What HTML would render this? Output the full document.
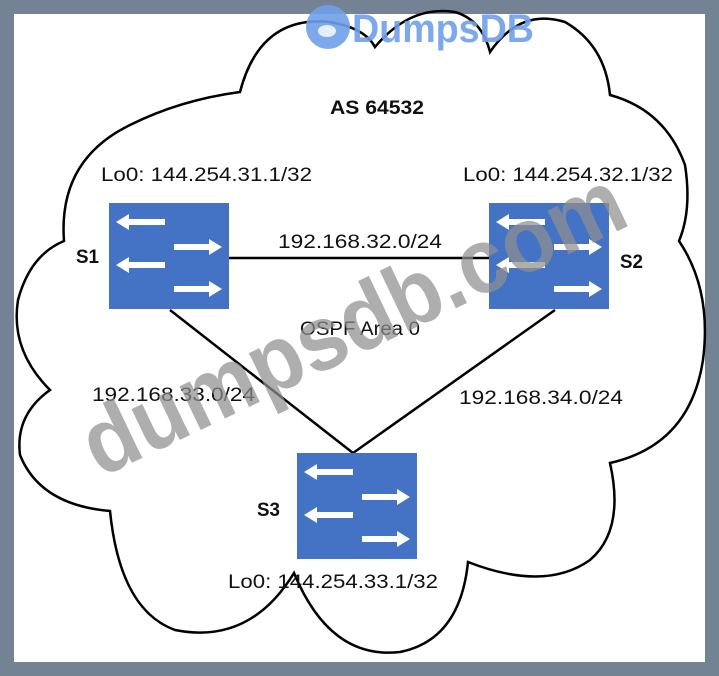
<!DOCTYPE html>
<html><head><meta charset="utf-8"><style>
html,body{margin:0;padding:0;background:#738393;}
svg{display:block}
</style></head><body>
<svg width="719" height="676" viewBox="0 0 719 676" xmlns="http://www.w3.org/2000/svg">
<rect x="0" y="0" width="719" height="676" fill="#738393"/>
<rect x="14" y="14" width="691" height="648" fill="#ffffff"/>
<path d="M240,92 Q260,15 330,22 Q365,28 375,47 Q410,5 455,12 Q482,20 490,52 Q520,8 565,22 Q605,45 610,95 Q665,110 685,165 Q692,210 679,241 Q712,290 703,360 Q690,445 610,463 Q625,530 590,560 Q545,592 468,562 Q460,640 400,652 Q330,660 294,573 Q250,645 175,630 Q120,610 110,511 Q40,505 20,455 Q15,415 50,390 Q10,350 18,300 Q30,255 64,241 Q58,160 130,125 Q180,100 240,92 Z" fill="none" stroke="#000" stroke-width="2.5"/>
<g stroke="#000" stroke-width="2.5">
<line x1="228" y1="258" x2="489" y2="258"/>
<line x1="170" y1="310" x2="353" y2="453"/>
<line x1="555" y1="310" x2="353" y2="453"/>
</g>
<defs>
<g id="sw">
<rect x="0" y="0" width="120" height="106" fill="#4472C4"/>
<g fill="#fff">
<polygon points="7,19 20,11 20,16 56,16 56,22 20,22 20,27"/>
<polygon points="7,62 20,54 20,59 56,59 56,65 20,65 20,70"/>
<polygon points="113,44 100,36 100,41 65,41 65,47 100,47 100,52"/>
<polygon points="113,86 100,78 100,83 65,83 65,89 100,89 100,94"/>
</g>
</g>
</defs>
<use href="#sw" x="109" y="203"/>
<use href="#sw" x="489" y="203"/>
<use href="#sw" x="297" y="453"/>
<g font-family="Liberation Sans, sans-serif" font-size="19" fill="#111">
<text x="330" y="114" font-weight="bold" textLength="94" lengthAdjust="spacingAndGlyphs">AS 64532</text>
<text x="101" y="181" textLength="211" lengthAdjust="spacingAndGlyphs">Lo0: 144.254.31.1/32</text>
<text x="463" y="181" textLength="210" lengthAdjust="spacingAndGlyphs">Lo0: 144.254.32.1/32</text>
<text x="278" y="248" textLength="164" lengthAdjust="spacingAndGlyphs">192.168.32.0/24</text>
<text x="76" y="263" font-weight="bold" textLength="23" lengthAdjust="spacingAndGlyphs">S1</text>
<text x="620" y="268" font-weight="bold" textLength="23" lengthAdjust="spacingAndGlyphs">S2</text>
<text x="300" y="335" textLength="120" lengthAdjust="spacingAndGlyphs">OSPF Area 0</text>
<text x="92" y="401" textLength="163" lengthAdjust="spacingAndGlyphs">192.168.33.0/24</text>
<text x="459" y="404" textLength="164" lengthAdjust="spacingAndGlyphs">192.168.34.0/24</text>
<text x="257" y="516" font-weight="bold" textLength="23" lengthAdjust="spacingAndGlyphs">S3</text>
<text x="228" y="588" textLength="210" lengthAdjust="spacingAndGlyphs">Lo0: 144.254.33.1/32</text>
</g>
<text x="0" y="0" transform="translate(100,478) rotate(-25.5)" font-family="Liberation Sans, sans-serif" font-weight="bold" font-size="92" fill="#8f8f8f" fill-opacity="0.72" textLength="590" lengthAdjust="spacingAndGlyphs">dumpsdb.com</text>
<circle cx="328" cy="27" r="22" fill="#6fa0e8" fill-opacity="0.9"/>
<ellipse cx="327" cy="31" rx="9" ry="6" fill="#fff" fill-opacity="0.8"/>
<text x="352" y="42" font-family="Liberation Sans, sans-serif" font-weight="bold" font-size="40" fill="#6fa0e8" fill-opacity="0.9" textLength="182" lengthAdjust="spacingAndGlyphs">DumpsDB</text>
</svg>
</body></html>
